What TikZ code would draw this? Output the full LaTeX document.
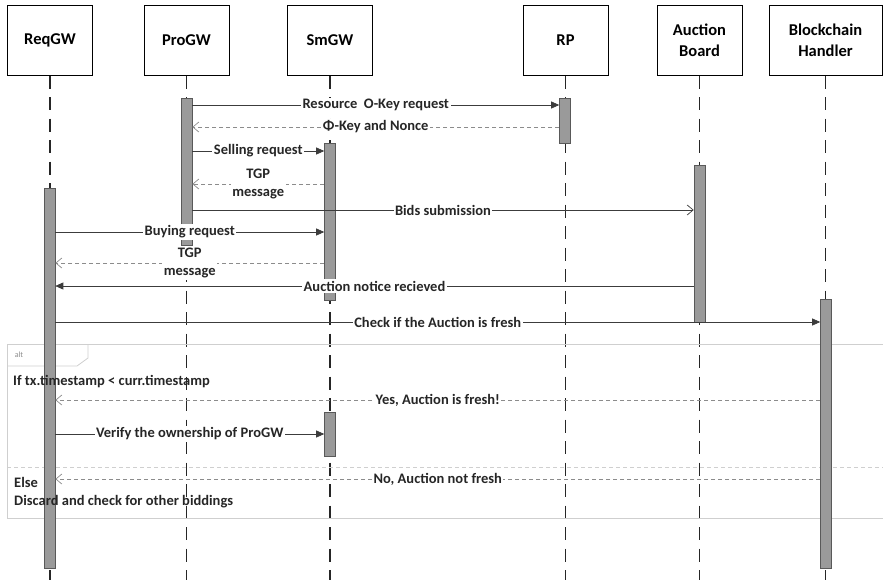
\documentclass[tikz,border=0pt]{standalone}
\usepackage{fontspec}
\setmainfont{Carlito}
\usetikzlibrary{arrows.meta}

\definecolor{actgray}{HTML}{9A9A9A}
\definecolor{linegray}{HTML}{3C3C3C}
\definecolor{replygray}{HTML}{8C8C8C}
\definecolor{framegray}{HTML}{CFCFCF}

\tikzset{
  head/.style={draw, line width=1pt, minimum width=85pt, minimum height=70pt, align=center, font=\fontsize{16.5}{21}\selectfont\bfseries},
  life/.style={draw=black!85, line width=1.3pt, dash pattern=on 13pt off 8.5pt},
  act/.style={draw=black!65, fill=actgray, line width=0.6pt, minimum width=11pt, inner sep=0pt, anchor=north},
  callmsg/.style={draw=linegray, line width=0.7pt, -{Triangle[length=8pt,width=7pt]}},
  asyncmsg/.style={draw=linegray, line width=0.7pt, -{Straight Barb[length=6pt,width=10pt]}},
  replymsg/.style={draw=replygray, line width=0.7pt, dash pattern=on 4pt off 3pt, -{Straight Barb[length=6pt,width=10pt]}},
  lbl/.style={fill=white, inner sep=1.5pt, text=black!85, font=\fontsize{14.5}{18.5}\selectfont\bfseries},
  frame/.style={draw=framegray, line width=0.8pt},
  guard/.style={anchor=west, align=left, inner sep=0pt, text=black!85, font=\fontsize{14.5}{18}\selectfont\bfseries}
}

\begin{document}
\begin{tikzpicture}[x=1pt, y=-1pt]
  \useasboundingbox (0,0) rectangle (883,584);

  % participants
  \node[head] (reqgw) at (50,40) {ReqGW};
  \node[head] (progw) at (186.5,40) {ProGW};
  \node[head] (smgw) at (330,40) {SmGW};
  \node[head] (rp) at (565.5,40) {RP};
  \node[head] (board) at (699.5,40) {Auction\\Board};
  \node[head, minimum width=113pt] (chain) at (825.5,40) {Blockchain\\Handler};

  \coordinate (bottom) at (0,580);
  \foreach \n in {reqgw,progw,smgw,rp,board,chain}
    \draw[life] (\n.south) -- (\n.south |- bottom);

  % alt frame
  \draw[frame] (883,344) -| (7,518) -- (883,518);
  \draw[frame] (7,366) -- (77,366) -- (88,358) -- (88,344);
  \node[text=black!45, font=\fontsize{8}{9}\selectfont] (alttag) at (19,355) {alt};
  \draw[frame, dash pattern=on 4pt off 3pt] (7,467) -- (883,467);

  % activations
  \node[act, minimum height=380pt] (reqgw-act) at (49.5,188) {};
  \node[act, minimum height=147pt] (progw-act) at (186.5,98) {};
  \node[act, minimum height=157pt] (smgw-act) at (330,143) {};
  \node[act, minimum height=45pt] (rp-act) at (565,98) {};
  \node[act, minimum height=157pt] (board-act) at (699.5,165) {};
  \node[act, minimum height=269pt] (chain-act) at (826,299) {};
  \node[act, minimum height=44pt] (smgw-act2) at (330,412) {};

  % message rows
  \foreach \r/\y in {1/105,2/127,3/151,4/184,5/210,6/232,7/263,8/286,9/322,10/400,11/434,12/479}
    \coordinate (r\r) at (0,\y);

  \draw[callmsg] (progw-act.east |- r1) -- node[lbl] {Resource~~O-Key request} (rp-act.west |- r1);
  \draw[replymsg] (rp-act.west |- r2) -- node[lbl] {Φ-Key and Nonce} (progw-act.east |- r2);
  \draw[callmsg] (progw-act.east |- r3) -- node[lbl] {Selling request} (smgw-act.west |- r3);
  \draw[replymsg] (smgw-act.west |- r4) -- node[lbl, align=center] {TGP\\message} (progw-act.east |- r4);
  \draw[asyncmsg] (progw-act.east |- r5) -- node[lbl] {Bids submission} (board-act.west |- r5);
  \draw[callmsg] (reqgw-act.east |- r6) -- node[lbl] {Buying request} (smgw-act.west |- r6);
  \draw[replymsg] (smgw-act.west |- r7) -- node[lbl, align=center] {TGP\\message} (reqgw-act.east |- r7);
  \draw[callmsg] (board-act.west |- r8) -- node[lbl] {Auction notice recieved} (reqgw-act.east |- r8);
  \draw[callmsg] (reqgw-act.east |- r9) -- node[lbl] {Check if the Auction is fresh} (chain-act.west |- r9);
  \draw[replymsg] (chain-act.west |- r10) -- node[lbl] {Yes, Auction is fresh!} (reqgw-act.east |- r10);
  \draw[callmsg] (reqgw-act.east |- r11) -- node[lbl] {Verify the ownership of ProGW} (smgw-act2.west |- r11);
  \draw[replymsg] (chain-act.west |- r12) -- node[lbl] {No, Auction not fresh} (reqgw-act.east |- r12);

  % guards
  \node[guard] (cond-if) at (13,382) {If tx.timestamp < curr.timestamp};
  \node[guard] (cond-else) at (14,493) {Else\\Discard and check for other biddings};
\end{tikzpicture}
\end{document}
